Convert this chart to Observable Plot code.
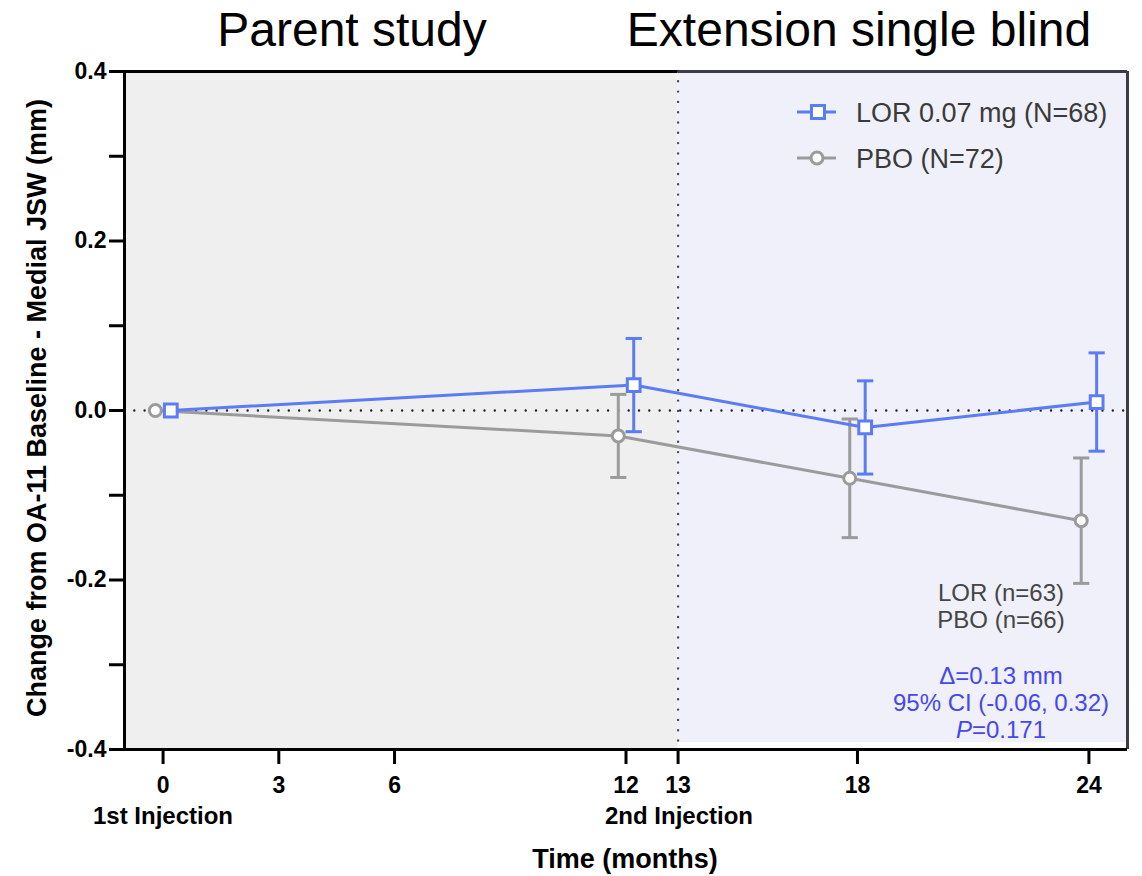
<!DOCTYPE html>
<html>
<head>
<meta charset="utf-8">
<script src="https://cdn.jsdelivr.net/npm/d3@7"></script>
<script src="https://cdn.jsdelivr.net/npm/@observablehq/plot@0.6"></script>
<style>
  body { margin: 0; background: #fff; }
  #wrap { position: relative; width: 1142px; height: 876px; font-family: "Liberation Sans", Arial, Helvetica, sans-serif; }
  #wrap svg.overlay { position: absolute; left: 0; top: 0; pointer-events: none; }
</style>
</head>
<body>
<div id="wrap"></div>
<script>
// Visit months and group results (mean change in medial JSW, mm, with error half-widths)
const months = [0, 12, 18, 24];
const lorMean = [0, 0.03, -0.02, 0.01];
const lorErr = [0, 0.055, 0.055, 0.058];
const pboMean = [0, -0.03, -0.08, -0.13];
const pboErr = [0, 0.049, 0.07, 0.074];

// Second injection visit (the "13" tick and the phase boundary)
const secondInjection = 13.35;

// Axis ticks
const xTicks = [0, 3, 6, 12, secondInjection, 18, 24];
const xTickLabels = ["0", "3", "6", "12", "13", "18", "24"];
const yTicks = [-0.4, -0.3, -0.2, -0.1, 0, 0.1, 0.2, 0.3, 0.4];
const yLabelled = [-0.4, -0.2, 0, 0.2, 0.4];

// Study phases
const phases = [
  {name: "Parent study", x1: -1, x2: secondInjection, y1: -0.4, y2: 0.4, fill: "#eeefee"},
  {name: "Extension single blind", x1: secondInjection, x2: 25, y1: -0.392, y2: 0.4, fill: "#eff0f9"}
];

// Legend and annotation text
const legendItems = [
  {label: "LOR 0.07 mg (N=68)", group: "LOR"},
  {label: "PBO (N=72)", group: "PBO"}
];
const countLines = ["LOR (n=63)", "PBO (n=66)"];
const statLines = ["Δ=0.13 mm", "95% CI (-0.06, 0.32)"];
const pValue = "0.171";

const blue = "#5b7cf2";
const gray = "#9b9b9b";
const dark = "#3c3c48";
const nudge = 0.2; // small horizontal offset so the two groups don't overlap

const pboRows = months.map((m, i) => ({x: m - nudge, mean: pboMean[i], err: pboErr[i]}));
const lorRows = months.map((m, i) => ({x: m + nudge, mean: lorMean[i], err: lorErr[i]}));

function errorMarks(rows, color) {
  const withErr = rows.filter(d => d.err > 0);
  const cap = 0.21;
  return [
    Plot.ruleX(withErr, {x: "x", y1: d => d.mean - d.err, y2: d => d.mean + d.err, stroke: color, strokeWidth: 3}),
    Plot.link(withErr, {x1: d => d.x - cap, x2: d => d.x + cap, y1: d => d.mean + d.err, y2: d => d.mean + d.err, stroke: color, strokeWidth: 3}),
    Plot.link(withErr, {x1: d => d.x - cap, x2: d => d.x + cap, y1: d => d.mean - d.err, y2: d => d.mean - d.err, stroke: color, strokeWidth: 3})
  ];
}

const dotted = {strokeWidth: 2.4, strokeDasharray: "0,10.3", strokeLinecap: "round"};

const chart = Plot.plot({
  width: 1142,
  height: 876,
  marginTop: 71,
  marginBottom: 127,
  marginLeft: 124,
  marginRight: 15,
  style: {fontFamily: "'Liberation Sans', Arial, Helvetica, sans-serif", background: "transparent"},
  x: {domain: [-1, 25]},
  y: {domain: [-0.4, 0.4]},
  marks: [
    Plot.rect(phases, {x1: "x1", x2: "x2", y1: "y1", y2: "y2", fill: "fill"}),
    Plot.ruleY([0], {stroke: "#222", ...dotted}),
    Plot.ruleX([secondInjection], {stroke: "#4a4a55", ...dotted}),

    // PBO group
    ...errorMarks(pboRows, gray),
    Plot.line(pboRows, {x: "x", y: "mean", stroke: gray, strokeWidth: 3}),
    Plot.dot(pboRows, {x: "x", y: "mean", r: 6, symbol: "circle", stroke: gray, strokeWidth: 3, fill: "white"}),

    // LOR group
    ...errorMarks(lorRows, blue),
    Plot.line(lorRows, {x: "x", y: "mean", stroke: blue, strokeWidth: 3}),
    Plot.dot(lorRows, {x: "x", y: "mean", r: 7.2, symbol: "square", stroke: blue, strokeWidth: 3, fill: "white"}),

    // Frame
    Plot.ruleY([0.4], {x1: -1, x2: secondInjection, stroke: "#000", strokeWidth: 3}),
    Plot.ruleY([0.4], {x1: secondInjection, x2: 25, stroke: dark, strokeWidth: 3}),
    Plot.ruleX([25], {stroke: dark, strokeWidth: 3}),
    Plot.ruleX([-1], {stroke: "#000", strokeWidth: 3}),
    Plot.ruleY([-0.4], {stroke: "#000", strokeWidth: 3}),

    // Axes
    Plot.axisX({
      ticks: xTicks,
      tickFormat: d => xTickLabels[xTicks.indexOf(d)],
      tickSize: 15,
      tickPadding: 12,
      strokeWidth: 3,
      fontSize: 23,
      fontWeight: "bold",
      fill: "#000",
      label: null
    }),
    Plot.axisY({
      ticks: yTicks,
      tickFormat: d => yLabelled.some(v => Math.abs(v - d) < 1e-9) ? d.toFixed(1) : "",
      tickSize: 15,
      tickPadding: 3,
      strokeWidth: 3,
      fontSize: 23,
      fontWeight: "bold",
      fill: "#000",
      label: null
    })
  ]
});

const wrap = document.getElementById("wrap");
wrap.appendChild(chart);

// Titles, axis titles, legend and annotations
const ov = d3.select(wrap).append("svg")
  .attr("class", "overlay")
  .attr("width", 1142)
  .attr("height", 876)
  .style("font-family", "'Liberation Sans', Arial, Helvetica, sans-serif");

ov.append("text").attr("x", 352).attr("y", 46).attr("text-anchor", "middle")
  .attr("font-size", 48).text(phases[0].name);
ov.append("text").attr("x", 859).attr("y", 46).attr("text-anchor", "middle")
  .attr("font-size", 48).text(phases[1].name);

ov.append("text").attr("transform", "translate(46,408) rotate(-90)").attr("text-anchor", "middle")
  .attr("font-size", 27).attr("font-weight", "bold").text("Change from OA-11 Baseline - Medial JSW (mm)");
ov.append("text").attr("x", 625).attr("y", 868).attr("text-anchor", "middle")
  .attr("font-size", 27).attr("font-weight", "bold").text("Time (months)");
ov.append("text").attr("x", 163).attr("y", 824).attr("text-anchor", "middle")
  .attr("font-size", 24).attr("font-weight", "bold").text("1st Injection");
ov.append("text").attr("x", 679).attr("y", 824).attr("text-anchor", "middle")
  .attr("font-size", 24).attr("font-weight", "bold").text("2nd Injection");

// Legend
legendItems.forEach((item, i) => {
  const cy = 112 + i * 46;
  const color = item.group === "LOR" ? blue : gray;
  ov.append("line").attr("x1", 797).attr("x2", 836).attr("y1", cy).attr("y2", cy)
    .attr("stroke", color).attr("stroke-width", 3);
  if (item.group === "LOR") {
    ov.append("rect").attr("x", 818 - 6.5).attr("y", cy - 6.5).attr("width", 13).attr("height", 13)
      .attr("fill", "white").attr("stroke", color).attr("stroke-width", 3);
  } else {
    ov.append("circle").attr("cx", 817).attr("cy", cy).attr("r", 6)
      .attr("fill", "white").attr("stroke", color).attr("stroke-width", 3);
  }
  ov.append("text").attr("x", 856).attr("y", cy).attr("dy", "0.36em")
    .attr("font-size", 27).attr("fill", "#3a3a3a").text(item.label);
});

// Annotations
countLines.forEach((t, i) => {
  ov.append("text").attr("x", 1001).attr("y", 601 + i * 27).attr("text-anchor", "middle")
    .attr("font-size", 24).attr("fill", "#454545").text(t);
});
statLines.forEach((t, i) => {
  ov.append("text").attr("x", 1001).attr("y", 684 + i * 27).attr("text-anchor", "middle")
    .attr("font-size", 24).attr("fill", "#4747ee").text(t);
});
const pText = ov.append("text").attr("x", 1001).attr("y", 738).attr("text-anchor", "middle")
  .attr("font-size", 24).attr("fill", "#4747ee");
pText.append("tspan").attr("font-style", "italic").text("P");
pText.append("tspan").text("=" + pValue);
</script>
</body>
</html>
